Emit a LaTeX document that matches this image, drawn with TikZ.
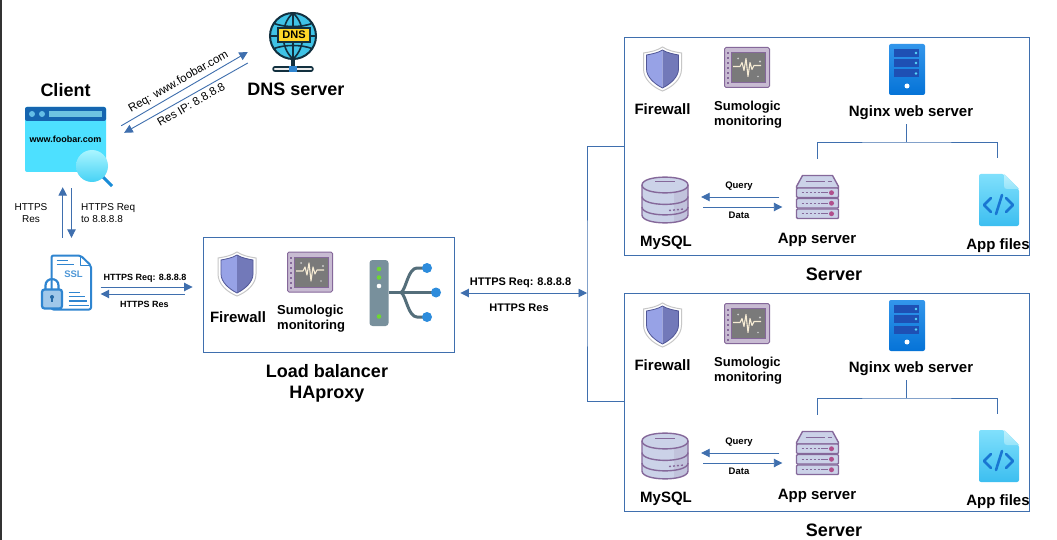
\documentclass[tikz,border=0pt]{standalone}
\usepackage{fontspec}
\setmainfont{Liberation Sans}
\usepackage{xcolor}
\usetikzlibrary{arrows.meta}

\definecolor{linkblue}{HTML}{3F6FAE}
\definecolor{sslblue}{HTML}{2F85D0}
\definecolor{rackline}{HTML}{85689A}
\definecolor{rackfill}{HTML}{CBD2E8}
\definecolor{globeline}{HTML}{12303F}

\begin{document}
\begin{tikzpicture}[x=1pt,y=-1pt]
      \tikzset{hugetxt/.style={font=\bfseries\fontsize{18}{21}\selectfont,align=center}}
      \tikzset{boldtxt/.style={font=\bfseries\fontsize{15}{17}\selectfont}}
      \tikzset{sumotxt/.style={font=\bfseries\fontsize{13}{15.5}\selectfont,align=left}}
      \tikzset{smalltxt/.style={font=\bfseries\fontsize{9}{11}\selectfont}}
      \tikzset{plaintxt/.style={font=\fontsize{10}{12}\selectfont,align=left}}
      \tikzset{dnstxt/.style={font=\fontsize{11.5}{14}\selectfont,rotate=30}}
      \tikzset{spot/.style 2 args={minimum width=#1,minimum height=#2,inner sep=0pt}}
      \tikzset{box/.style={draw=linkblue,line width=.9pt,inner sep=0pt}}
      \tikzset{link/.style={draw=linkblue,line width=.9pt}}
      \tikzset{arrow/.style={link,-{Triangle[length=8.5pt,width=8.5pt]},color=linkblue}}
      \tikzset{twoway/.style={link,{Triangle[length=8.5pt,width=8.5pt]}-{Triangle[length=8.5pt,width=8.5pt]},color=linkblue}}

      % icons, all drawn round their centre
      \tikzset{firewallicon/.pic={
        \filldraw[fill=white,draw=black!22,line width=1pt] (0,-22) .. controls (-6,-18) and (-13,-17) .. (-19,-16) -- (-19,0) .. controls (-19,10) and (-10,18) .. (0,22) .. controls (10,18) and (19,10) .. (19,0) -- (19,-16) .. controls (13,-17) and (6,-18) .. (0,-22) -- cycle;
        \fill[fill={rgb,255:red,151;green,162;blue,230}] (0,-19) .. controls (-5,-16) and (-11,-15) .. (-16,-14) -- (-16,0) .. controls (-16,8) and (-8,15) .. (0,19) -- cycle;
        \fill[fill={rgb,255:red,114;green,121;blue,185}] (0,-19) .. controls (5,-16) and (11,-15) .. (16,-14) -- (16,0) .. controls (16,8) and (8,15) .. (0,19) -- cycle;
        \draw[draw={rgb,255:red,80;green,86;blue,150},line width=.8pt] (0,-19) .. controls (-5,-16) and (-11,-15) .. (-16,-14) -- (-16,0) .. controls (-16,8) and (-8,15) .. (0,19) .. controls (8,15) and (16,8) .. (16,0) -- (16,-14) .. controls (11,-15) and (5,-16) .. (0,-19) -- cycle;
      }}
      \tikzset{monitoricon/.pic={
        \filldraw[fill=rackline!45!white,draw=rackline,line width=1pt,rounded corners=1.5pt] (-22.5,-20) rectangle (22.5,20);
        \filldraw[fill=black!52,draw=rackline,line width=1pt] (-16,-15) rectangle (18,15);
        \foreach \dotrow in {-15,-10,...,15} {\fill[rackline] (-20.5,\dotrow) rectangle (-18,\dotrow+2);}
        \draw[draw={rgb,255:red,247;green,236;blue,212},line width=1.1pt,line join=round] (-14,-1) -- (-7,-1) -- (-5,-5) -- (-3,3) -- (-1,-9) -- (1,9) -- (3,-5) -- (5,2) -- (7,-2) -- (14,-2);
        \fill[white!80!black] (-9,-9) circle (1) (13,-6) circle (1.2) (11,9) circle (.8);
      }}
      \tikzset{nginxicon/.pic={
        \shade[top color={rgb,255:red,51;green,150;blue,235},bottom color={rgb,255:red,5;green,115;blue,215},rounded corners=2pt] (-18,-25.5) rectangle (18,25.5);
        \foreach \barrow in {-20.5,-10.5,0} {
          \fill[fill={rgb,255:red,30;green,80;blue,180}] (-13,\barrow) rectangle (12,\barrow+8);
          \fill[fill={rgb,255:red,90;green,215;blue,250}] (9,\barrow+4) circle (1.3);
        }
        \fill[white] (0,16.5) circle (2.5);
      }}
      \tikzset{mysqlicon/.pic={
        \filldraw[fill=rackfill,draw=rackline,line width=1.4pt] (-23,-15) -- (-23,15) .. controls (-23,25.5) and (23,25.5) .. (23,15) -- (23,-15) .. controls (23,-25.5) and (-23,-25.5) .. (-23,-15) -- cycle;
        \fill[fill=rackline,opacity=.14] (9,-8) -- (9,22) .. controls (16,21) and (22.3,19) .. (22.3,15) -- (22.3,-13) .. controls (22,-11) and (16,-9) .. (9,-8) -- cycle;
        \draw[rackline,line width=1.4pt] (-23,-15) .. controls (-23,-4.5) and (23,-4.5) .. (23,-15);
        \draw[rackline,line width=1.4pt] (-23,-3.5) .. controls (-23,7) and (23,7) .. (23,-3.5);
        \draw[rackline,line width=1.4pt] (-23,7) .. controls (-23,17.5) and (23,17.5) .. (23,7);
        \draw[rackline,line width=1pt] (-10,-18) -- (10,-18);
        \draw[rackline,line width=1.4pt,dash pattern=on 2pt off 2pt] (4,10.5) -- (19,9);
      }}
      \tikzset{rackicon/.pic={
        \filldraw[fill=rackfill,draw=rackline,line width=1.4pt,line join=round] (-21,-9.5) -- (-21,-11) -- (-15,-22) -- (15,-22) -- (21,-11) -- (21,-9.5) -- cycle;
        \draw[rackline,line width=1pt] (-12,-16) -- (7,-16) (10,-16) -- (14,-16);
        \foreach \rowy in {-9.5,1,11.5} {
          \filldraw[fill=rackfill,draw=rackline,line width=1.4pt,rounded corners=1pt] (-21,\rowy) rectangle (21,\rowy+9.5);
          \draw[rackline,line width=1.3pt,dash pattern=on 2pt off 2pt] (-16,\rowy+4.75) -- (3,\rowy+4.75);
          \draw[rackline,line width=1.2pt] (3,\rowy+4.75) -- (10,\rowy+4.75);
          \fill[fill={rgb,255:red,176;green,80;blue,140}] (14,\rowy+4.75) circle (2.5);
        }
      }}
      \tikzset{filesicon/.pic={
        \shade[top color={rgb,255:red,128;green,224;blue,252},bottom color={rgb,255:red,60;green,190;blue,240},rounded corners=2pt] (-20,-26) -- (5,-26) -- (20,-11) -- (20,26) -- (-20,26) -- cycle;
        \shade[top color={rgb,255:red,190;green,240;blue,252},bottom color={rgb,255:red,150;green,228;blue,250}] (5,-26) -- (20,-11) -- (8,-11) .. controls (6,-11) and (5,-12) .. (5,-14) -- cycle;
        \draw[draw={rgb,255:red,25;green,118;blue,210},line width=2.6pt,line cap=round,line join=round] (-8,-2) -- (-15,5) -- (-8,12) (7,-2) -- (14,5) -- (7,12) (3,-5) -- (-3,14);
      }}
      \tikzset{balancericon/.pic={
        \fill[fill={rgb,255:red,120;green,144;blue,156},rounded corners=3pt] (-33.5,-33) rectangle (-14.5,33);
        \fill[fill={rgb,255:red,110;green,215;blue,50}] (-24,-24) circle (2.3) (-24,-15.5) circle (2.3) (-24,23.5) circle (2.3);
        \fill[white] (-24,-7) circle (2.3);
        \draw[draw={rgb,255:red,84;green,110;blue,122},line width=3pt] (-14.5,-.5) -- (33,-.5);
        \draw[draw={rgb,255:red,84;green,110;blue,122},line width=3pt] (-2,-.5) .. controls (3,-3) and (5,-25) .. (14,-25) -- (24,-25);
        \draw[draw={rgb,255:red,84;green,110;blue,122},line width=3pt] (-2,-.5) .. controls (3,2) and (5,24) .. (14,24) -- (24,24);
        \fill[fill={rgb,255:red,45;green,140;blue,220}] (24,-25) circle (5) (33,-.5) circle (5) (24,24) circle (5);
      }}
      \tikzset{clienticon/.pic={
        \fill[fill={rgb,255:red,77;green,224;blue,255},rounded corners=2pt] (-40.5,-32.5) rectangle (40.5,32.5);
        \fill[fill={rgb,255:red,21;green,101;blue,176},rounded corners=2pt] (-40.5,-32.5) rectangle (40.5,-18.5);
        \fill[fill={rgb,255:red,100;green,190;blue,230}] (-33.5,-25.5) circle (3) (-23.5,-25.5) circle (3);
        \fill[fill={rgb,255:red,110;green,195;blue,225}] (-16.5,-28.5) rectangle (36.5,-22.5);
        \draw[draw={rgb,255:red,25;green,140;blue,215},line width=3pt] (37.5,37.5) -- (46.5,46.5);
        \shade[top color={rgb,255:red,170;green,245;blue,255},bottom color={rgb,255:red,70;green,210;blue,245}] (26.5,26.5) circle (16);
      }}
      \tikzset{sslicon/.pic={
        \filldraw[fill=white,draw=sslblue,line width=2pt,rounded corners=2pt,line join=round] (-20,-27) -- (9,-27) -- (19.5,-17) -- (19.5,27) -- (-20,27) -- cycle;
        \draw[sslblue,line width=1.6pt,line join=round] (9,-27) -- (9,-17) -- (19.5,-17);
        \draw[sslblue,line width=1.8pt] (-15,-22) -- (-4,-22) (-15,-18) -- (2,-18);
        \draw[sslblue,line width=1.7pt] (-3,10) -- (8,10) (-3,14) -- (13,14) (-3,18.5) -- (15,18.5) (-3,23) -- (17,23);
        \draw[draw=sslblue,line width=2.2pt] (-26,8) -- (-26,3) .. controls (-26,-5.5) and (-13,-5.5) .. (-13,3) -- (-13,8);
        \filldraw[fill=sslblue!45!white,draw=sslblue,line width=2.2pt,rounded corners=2.5pt] (-29.5,7) rectangle (-9.5,26);
        \fill[sslblue!80!black] (-19.5,14.5) circle (2);
        \draw[sslblue!80!black,line width=1.2pt] (-19.5,14.5) -- (-19.5,19);
      }}
      \tikzset{dnsicon/.pic={
        \filldraw[fill={rgb,255:red,63;green,195;blue,230},draw=globeline,line width=2pt] (0,-6.5) circle (23);
        \draw[globeline,line width=1.6pt] (0,-29.5) .. controls (-13,-18) and (-13,5) .. (0,16.5);
        \draw[globeline,line width=1.6pt] (0,-29.5) .. controls (13,-18) and (13,5) .. (0,16.5);
        \draw[globeline,line width=1.6pt] (0,-29.5) -- (0,16.5);
        \draw[globeline,line width=1.6pt] (-19,-19) .. controls (-8,-15) and (8,-15) .. (19,-19);
        \draw[globeline,line width=1.6pt] (-19,6) .. controls (-8,2) and (8,2) .. (19,6);
        \draw[globeline,line width=1.6pt] (-23,-6.5) -- (23,-6.5);
        \draw[globeline,line width=4pt] (0,16.5) -- (0,26);
        \draw[globeline,line width=5.5pt,line cap=round] (-18,26.5) -- (18,26.5);
        \draw[black!8,line width=2.5pt,line cap=round] (-18,26.5) -- (18,26.5);
        \fill[sslblue] (-4,23.5) rectangle (4,29.5);
      }}

      \useasboundingbox (0,0) rectangle (1057,540);
      \fill[white] (0,0) rectangle (1057,540);
      \fill[black!80] (0,0) rectangle (2,540);

      % left side
      \node[spot={81pt}{65pt}] (client) at (65.5,139.5) {};
      \path (client.center) pic {clienticon};
      \node[font=\bfseries\fontsize{9}{11}\selectfont] (clienturl) at (65.5,139) {www.foobar.com};
      \node[hugetxt] (clientlbl) at (65.5,90) {Client};

      \node[spot={46pt}{59pt}] (dns) at (293,42.5) {};
      \path (dns.center) pic {dnsicon};
      \filldraw[fill={rgb,255:red,255;green,214;blue,40},draw=globeline,line width=1.4pt] (278,28) rectangle (310,42);
      \node[font=\bfseries\fontsize{11}{12}\selectfont] (dnsword) at (294,35) {DNS};
      \node[hugetxt] (dnslbl) at (296,89) {DNS server};

      \draw[arrow] ([shift={(15,19)}]client.north east) -- ([shift={(-22,9.5)}]dns.west);
      \draw[arrow] ([shift={(-22,20.5)}]dns.west) -- ([shift={(18,26)}]client.north east);
      \node[dnstxt] (dnsreq) at (178.5,82) {Req: www.foobar.com};
      \node[dnstxt] (dnsres) at (191,104.5) {Res IP: 8.8.8.8};

      \node[spot={42pt}{57pt}] (ssl) at (71.5,282.5) {};
      \path (ssl.center) pic {sslicon};
      \node[font=\bfseries\fontsize{9.5}{11}\selectfont,text=sslblue!85!white] (sslword) at (73.5,274) {SSL};

      \draw[arrow,shorten <=16pt,shorten >=15pt] ([xshift=-8.8pt]ssl.north) -- ([xshift=-8.8pt]ssl.north |- client.south);
      \draw[arrow,shorten <=16pt,shorten >=16pt] (ssl.north |- client.south) -- (ssl.north);
      \node[plaintxt,align=center] (resleft) at (31,213.5) {HTTPS\\Res};
      \node[plaintxt,anchor=west,inner sep=0pt] (reqright) at (81,213.5) {HTTPS Req\\to 8.8.8.8};

      % load balancer
      \node[box,minimum width=251pt,minimum height=115pt] (lb) at (328.5,294.5) {};
      \path (237,274) pic {firewallicon};
      \path (310,272) pic {monitoricon};
      \path (403,293) pic {balancericon};
      \node[boldtxt] (lbfw) at (238,317) {Firewall};
      \node[sumotxt,anchor=west,inner sep=0pt] (lbsumo) at (277,318.5) {Sumologic\\monitoring};
      \node[hugetxt] (lblbl) at (327,383) {Load balancer\\HAproxy};

      \draw[arrow,shorten <=8pt,shorten >=10pt] ([yshift=-4.5pt]ssl.east) -- ([yshift=7.5pt]lb.west);
      \draw[arrow,shorten <=18pt,shorten >=8pt] ([yshift=.5pt]lb.west) -- ([yshift=-11.5pt]ssl.east);
      \node[smalltxt] (lbreq) at (145,278) {HTTPS Req: 8.8.8.8};
      \node[smalltxt] (lbres) at (144.5,304) {HTTPS Res};

      % servers
      \foreach \srv/\dy in {a/0,b/256} {
        \begin{scope}[shift={(0,\dy)}]
          \node[box,minimum width=405pt,minimum height=218pt] (server\srv) at (826.5,146) {};
          \node[hugetxt] (serverlbl\srv) at (834,274) {Server};
          \path (662.5,69) pic {firewallicon};
          \path (747,67.5) pic {monitoricon};
          \node[boldtxt] (fw\srv) at (662.5,109) {Firewall};
          \node[sumotxt,anchor=west,inner sep=0pt] (sumo\srv) at (714,114.5) {Sumologic\\monitoring};
          \node[spot={36pt}{51pt}] (nginx\srv) at (907,69.5) {};
          \path (nginx\srv.center) pic {nginxicon};
          \node[boldtxt] (nginxlbl\srv) at (911,112.5) {Nginx web server};
          \node[spot={46pt}{46pt}] (db\srv) at (665,200) {};
          \path (db\srv.center) pic {mysqlicon};
          \node[boldtxt] (dblbl\srv) at (666,243) {MySQL};
          \node[spot={42pt}{45pt}] (app\srv) at (817.5,197.5) {};
          \path (app\srv.center) pic {rackicon};
          \node[boldtxt] (applbl\srv) at (817,240) {App server};
          \node[spot={40pt}{52pt}] (files\srv) at (999,200) {};
          \path (files\srv.center) pic {filesicon};
          \node[boldtxt] (fileslbl\srv) at (998,246) {App files};
          \coordinate (bus\srv) at (906,142);

          \draw[link,shorten <=1pt] (nginxlbl\srv.south -| bus\srv) -- (bus\srv);
          \draw[link,shorten <=16pt,shorten >=16pt] (app\srv.north) |- (bus\srv) -| ([xshift=-2pt]files\srv.north);
          \draw[arrow,shorten <=17pt,shorten >=13pt] ([yshift=.5pt]app\srv.west) -- ([yshift=3pt]db\srv.east);
          \draw[arrow,shorten <=15pt,shorten >=14pt] ([yshift=-7pt]db\srv.east) -- ([yshift=-9.5pt]app\srv.west);
          \node[font=\bfseries\fontsize{9.5}{11}\selectfont] (query\srv) at (739,186.5) {Query};
          \node[font=\bfseries\fontsize{9.5}{11}\selectfont] (data\srv) at (739,215.5) {Data};
        \end{scope}
      }

      \coordinate (hub) at (587,293);
      \draw[link] (servera.west) -| (hub) |- ([yshift=1pt]serverb.west);
      \draw[twoway,shorten <=6pt] (lb.east |- hub) -- (hub);
      \node[font=\bfseries\fontsize{11}{13}\selectfont] (hubreq) at (520.5,282.5) {HTTPS Req: 8.8.8.8};
      \node[font=\bfseries\fontsize{11}{13}\selectfont] (hubres) at (519,307.5) {HTTPS Res};
\end{tikzpicture}
\end{document}
